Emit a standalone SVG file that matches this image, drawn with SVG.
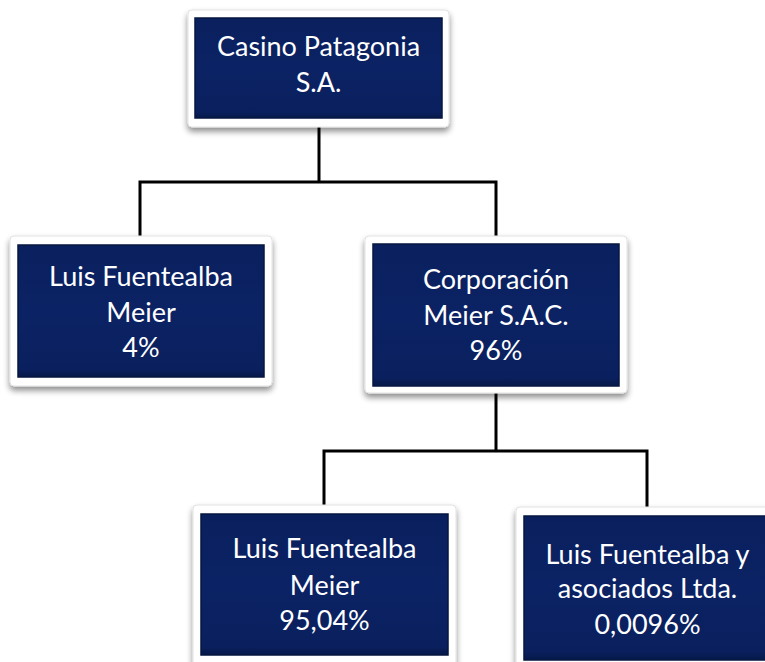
<svg xmlns="http://www.w3.org/2000/svg" width="765" height="662" viewBox="0 0 765 662">
<defs>
<filter id="sh" x="-10%" y="-10%" width="120%" height="130%">
<feGaussianBlur in="SourceAlpha" stdDeviation="3"/>
<feOffset dx="0" dy="4" result="b"/>
<feComponentTransfer><feFuncA type="linear" slope="0.45"/></feComponentTransfer>
<feMerge><feMergeNode/><feMergeNode in="SourceGraphic"/></feMerge>
</filter>
<linearGradient id="nv" x1="0" y1="0" x2="0" y2="1">
<stop offset="0" stop-color="#0a205e"/>
<stop offset="0.5" stop-color="#0b2264"/>
<stop offset="0.94" stop-color="#0a205e"/>
<stop offset="1" stop-color="#061849"/>
</linearGradient>
</defs>
<style>
.frame{fill:#ffffff;stroke:#e2e2e2;stroke-width:1;filter:url(#sh)}
.inner{fill:url(#nv);stroke:#06163f;stroke-width:1.5}
.t{font-family:Lato,"Open Sans","Liberation Sans",sans-serif;font-size:27px;fill:#ffffff;text-anchor:middle}
.c{fill:none;stroke:#000000;stroke-width:3}
</style>
<rect width="765" height="662" fill="#ffffff"/>
<g id="connectors">
<polyline class="c" points="319,119 319,182"/>
<polyline class="c" points="140,243 140,182 496,182 496,243"/>
<polyline class="c" points="496,387 496,451"/>
<polyline class="c" points="324,513 324,451 647,451 647,515"/>
</g>
<g id="casino">
<rect class="frame" x="188" y="10" width="261" height="117" rx="4"/>
<rect class="inner" x="195" y="18" width="247" height="100"/>
<text class="t" x="318.5" y="56">Casino Patagonia</text>
<text class="t" x="318.5" y="92">S.A.</text>
</g>
<g id="luis1">
<rect class="frame" x="10" y="236" width="262" height="150" rx="4"/>
<rect class="inner" x="18" y="245" width="246" height="132"/>
<text class="t" x="141" y="286">Luis Fuentealba</text>
<text class="t" x="141" y="322">Meier</text>
<text class="t" x="141" y="357">4%</text>
</g>
<g id="corporacion">
<rect class="frame" x="365" y="236" width="262" height="157" rx="4"/>
<rect class="inner" x="373" y="244" width="246" height="142"/>
<text class="t" x="496" y="289">Corporación</text>
<text class="t" x="496" y="325">Meier S.A.C.</text>
<text class="t" x="496" y="360">96%</text>
</g>
<g id="luis2">
<rect class="frame" x="193" y="505" width="263" height="165" rx="4"/>
<rect class="inner" x="201" y="514" width="247" height="141"/>
<text class="t" x="324.5" y="558">Luis Fuentealba</text>
<text class="t" x="324.5" y="595">Meier</text>
<text class="t" x="324.5" y="630">95,04%</text>
</g>
<g id="asociados">
<rect class="frame" x="516" y="507" width="263" height="165" rx="4"/>
<rect class="inner" x="524" y="516" width="247" height="144"/>
<text class="t" x="647.5" y="564">Luis Fuentealba y</text>
<text class="t" x="647.5" y="598">asociados Ltda.</text>
<text class="t" x="647.5" y="634">0,0096%</text>
</g>
</svg>
